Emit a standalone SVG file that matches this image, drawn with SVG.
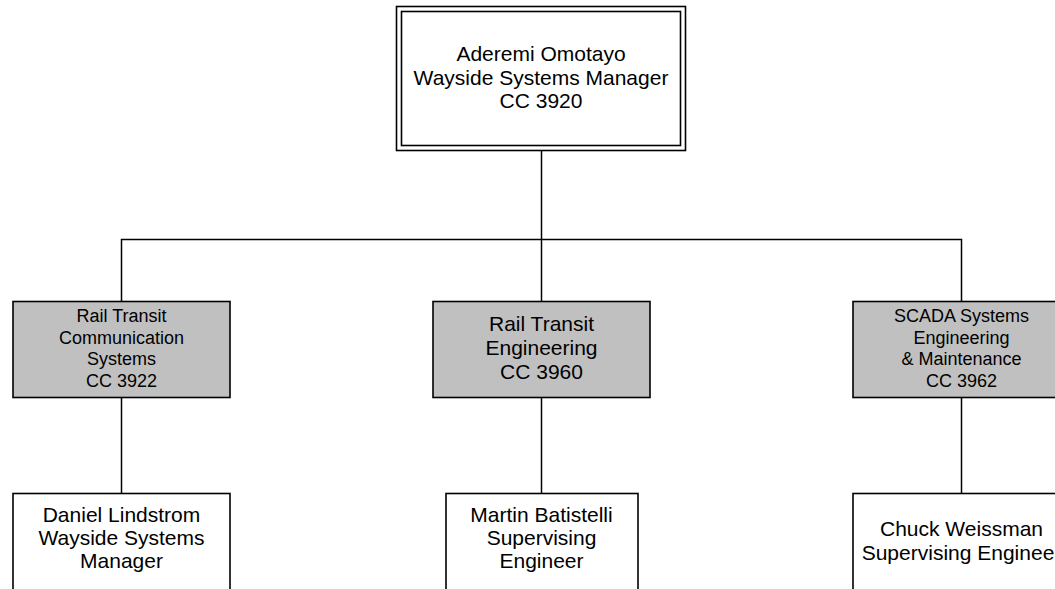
<svg xmlns="http://www.w3.org/2000/svg" width="1055" height="589" viewBox="0 0 1055 589">
<style>
.box{fill:#ffffff;stroke:#000000;stroke-width:1.6}
.grey{fill:#c0c0c0;stroke:#000000;stroke-width:1.6}
.conn{fill:none;stroke:#000000;stroke-width:1.5}
text{font-family:"Liberation Sans",Arial,sans-serif;fill:#000000;text-anchor:middle}
.big{font-size:21px}
.small{font-size:18px}
</style>
<rect width="1055" height="589" fill="#ffffff"/>
<g id="connectors">
<path class="conn" d="M541.5 150 V239.5"/>
<path class="conn" d="M121.5 301 V239.5 H961.5 V301"/>
<path class="conn" d="M541.5 239.5 V301"/>
<path class="conn" d="M121.5 397 V493"/>
<path class="conn" d="M541.5 397 V493"/>
<path class="conn" d="M961.5 397 V493"/>
</g>
<g id="n-omotayo">
<rect class="box" x="396.5" y="6.5" width="289" height="144"/>
<rect class="box" x="401.5" y="11.5" width="279" height="134"/>
<text class="big" x="541" y="61">Aderemi Omotayo</text>
<text class="big" x="541" y="84.5">Wayside Systems Manager</text>
<text class="big" x="541" y="108">CC 3920</text>
</g>
<g id="n-3922">
<rect class="grey" x="13" y="301.5" width="217" height="96"/>
<text class="small" x="121.5" y="322">Rail Transit</text>
<text class="small" x="121.5" y="343.5">Communication</text>
<text class="small" x="121.5" y="365">Systems</text>
<text class="small" x="121.5" y="386.5">CC 3922</text>
</g>
<g id="n-3960">
<rect class="grey" x="433" y="301.5" width="217" height="96"/>
<text class="big" x="541.5" y="331">Rail Transit</text>
<text class="big" x="541.5" y="355">Engineering</text>
<text class="big" x="541.5" y="379">CC 3960</text>
</g>
<g id="n-3962">
<rect class="grey" x="853" y="301.5" width="217" height="96"/>
<text class="small" x="961.5" y="322">SCADA Systems</text>
<text class="small" x="961.5" y="343.5">Engineering</text>
<text class="small" x="961.5" y="365">&amp; Maintenance</text>
<text class="small" x="961.5" y="386.5">CC 3962</text>
</g>
<g id="n-lindstrom">
<rect class="box" x="13" y="493.5" width="217" height="120"/>
<text class="big" x="121.5" y="522">Daniel Lindstrom</text>
<text class="big" x="121.5" y="545">Wayside Systems</text>
<text class="big" x="121.5" y="568">Manager</text>
</g>
<g id="n-batistelli">
<rect class="box" x="446" y="493.5" width="192" height="120"/>
<text class="big" x="541.5" y="522">Martin Batistelli</text>
<text class="big" x="541.5" y="545">Supervising</text>
<text class="big" x="541.5" y="568">Engineer</text>
</g>
<g id="n-weissman">
<rect class="box" x="853" y="493.5" width="217" height="120"/>
<text class="big" x="961.5" y="536">Chuck Weissman</text>
<text class="big" x="961.5" y="560">Supervising Engineer</text>
</g>
</svg>
